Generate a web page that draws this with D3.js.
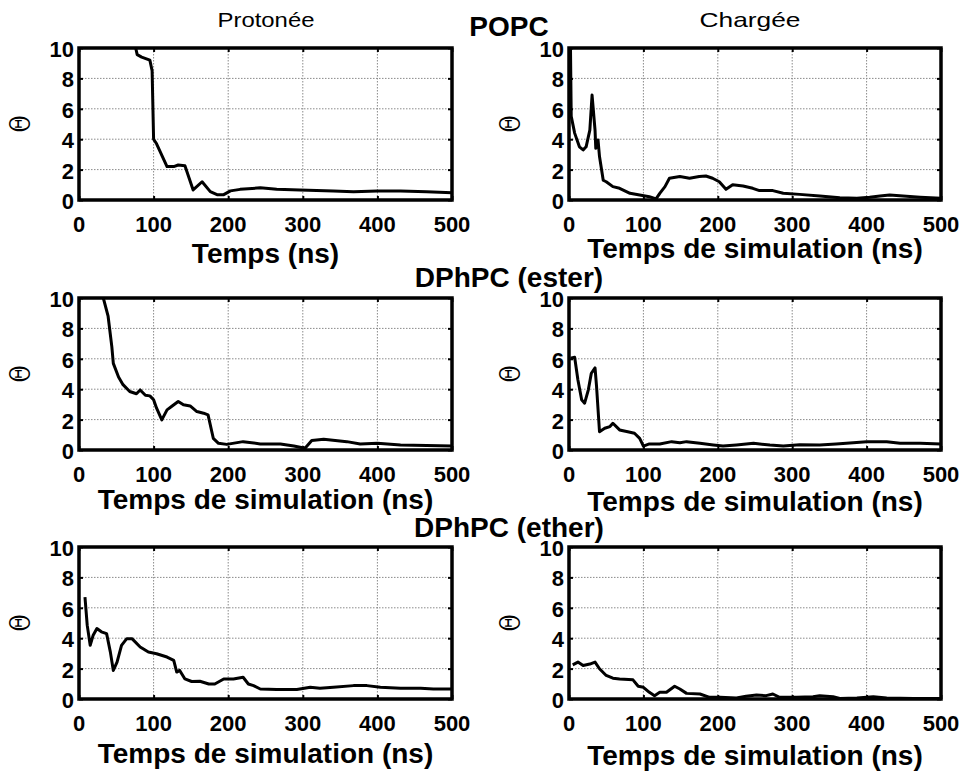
<!DOCTYPE html>
<html>
<head>
<meta charset="utf-8">
<script src="https://cdn.jsdelivr.net/npm/d3@7"></script>
<style>
  html, body { margin: 0; padding: 0; background: #fff; }
  svg { display: block; }
</style>
</head>
<body>
<svg id="chart" width="966" height="776"></svg>
<script>
// ---------- DATA ----------
const xTicks = [0, 100, 200, 300, 400, 500];
const yTicks = [0, 2, 4, 6, 8, 10];
const columnTitles = ["Protonée", "Chargée"];
const rowTitles = ["POPC", "DPhPC (ester)", "DPhPC (ether)"];
const yLabel = "Θ";

// time (ns)
const popcProtT = [76, 78, 84, 95, 98, 100, 104, 118, 127, 133, 142, 153, 165, 176, 185, 194, 203, 216, 243, 265, 296, 341, 368, 400, 431, 466, 500];
const popcProtV = [10, 9.56, 9.4, 9.2, 8.5, 4.0, 3.7, 2.2, 2.2, 2.3, 2.25, 0.66, 1.2, 0.55, 0.35, 0.35, 0.6, 0.7, 0.8, 0.7, 0.66, 0.6, 0.55, 0.6, 0.6, 0.55, 0.48];

const popcChgT = [0, 1, 2, 3, 7.6, 14, 19, 23, 28, 31, 35, 36, 39, 41, 46, 50, 59, 68, 82, 95, 108, 117, 122, 129, 135, 149, 162, 175, 184, 193, 202, 211, 220, 234, 247, 256, 274, 288, 310, 337, 364, 387, 404, 418, 431, 449, 472, 500];
const popcChgV = [7.0, 6.8, 10, 5.5, 4.4, 3.5, 3.3, 3.5, 4.6, 6.9, 4.6, 3.4, 3.95, 2.86, 1.3, 1.2, 0.88, 0.77, 0.44, 0.33, 0.22, 0.07, 0.44, 0.88, 1.43, 1.54, 1.43, 1.54, 1.58, 1.43, 1.2, 0.7, 1.0, 0.92, 0.77, 0.62, 0.62, 0.44, 0.37, 0.26, 0.15, 0.11, 0.18, 0.26, 0.33, 0.26, 0.18, 0.11];

const esterProtT = [32.6, 39, 44, 46, 53, 59, 68, 77, 82, 89, 95, 100, 104, 111, 118, 124, 133, 140, 149, 158, 167, 173, 180, 187, 198, 220, 243, 270, 288, 303, 312, 328, 359, 377, 400, 431, 466, 500];
const esterProtV = [10, 8.8, 6.8, 5.7, 4.8, 4.3, 3.85, 3.7, 3.95, 3.6, 3.56, 3.3, 2.75, 1.98, 2.64, 2.86, 3.19, 2.97, 2.9, 2.53, 2.42, 2.31, 0.77, 0.44, 0.37, 0.55, 0.4, 0.4, 0.26, 0.11, 0.62, 0.7, 0.55, 0.4, 0.44, 0.33, 0.29, 0.26];

const esterChgT = [2, 7.6, 12, 17, 21, 26, 30, 35, 37, 41, 48, 55, 59, 68, 79, 88, 95, 100, 108, 122, 138, 149, 158, 176, 194, 207, 225, 248, 270, 288, 310, 337, 359, 382, 400, 427, 445, 472, 500];
const esterChgV = [6.04, 6.1, 4.6, 3.3, 3.08, 3.96, 5.05, 5.4, 4.2, 1.2, 1.43, 1.54, 1.76, 1.32, 1.2, 1.1, 0.77, 0.26, 0.4, 0.4, 0.55, 0.48, 0.55, 0.44, 0.33, 0.26, 0.33, 0.44, 0.33, 0.26, 0.35, 0.33, 0.4, 0.48, 0.55, 0.55, 0.44, 0.44, 0.4];

const etherProtT = [8, 11, 15, 19, 24, 30, 37, 42, 46, 51, 57, 64, 71, 82, 93, 104, 118, 127, 131, 135, 142, 151, 162, 174, 182, 194, 207, 220, 227, 234, 243, 265, 292, 310, 323, 341, 368, 386, 404, 431, 458, 475, 500];
const etherProtV = [6.7, 4.86, 3.53, 4.2, 4.64, 4.42, 4.3, 3.1, 1.88, 2.43, 3.53, 3.97, 3.97, 3.42, 3.09, 2.98, 2.76, 2.54, 1.77, 1.88, 1.32, 1.15, 1.17, 0.99, 0.99, 1.32, 1.32, 1.43, 0.99, 0.88, 0.66, 0.62, 0.62, 0.77, 0.71, 0.77, 0.88, 0.88, 0.77, 0.71, 0.71, 0.66, 0.66];

const etherChgT = [5, 12, 19, 28, 35, 41, 50, 59, 68, 86, 93, 100, 108, 115, 122, 131, 142, 149, 158, 176, 189, 203, 225, 238, 252, 265, 274, 283, 306, 328, 337, 355, 364, 387, 409, 427, 463, 500];
const etherChgV = [2.25, 2.43, 2.2, 2.3, 2.43, 1.99, 1.55, 1.37, 1.32, 1.26, 0.84, 0.77, 0.44, 0.22, 0.44, 0.44, 0.84, 0.66, 0.37, 0.33, 0.11, 0.11, 0.07, 0.18, 0.26, 0.22, 0.33, 0.11, 0.11, 0.15, 0.22, 0.15, 0.04, 0.07, 0.15, 0.07, 0.04, 0.04];

// ---------- LAYOUT ----------
const colX = [[79, 452], [569, 941]];
const rowY = [[48, 200], [298, 450], [547, 699]];
const xTitles = [["Temps (ns)", "Temps de simulation (ns)"],
                 ["Temps de simulation (ns)", "Temps de simulation (ns)"],
                 ["Temps de simulation (ns)", "Temps de simulation (ns)"]];
const xTitleBase = [[263, 258], [509, 511], [763, 765]];
const rowTitleBase = [36, 287, 537];
const series = [
  [[popcProtT, popcProtV], [popcChgT, popcChgV]],
  [[esterProtT, esterProtV], [esterChgT, esterChgV]],
  [[etherProtT, etherProtV], [etherChgT, etherChgV]]
];

const svg = d3.select("#chart");
const FONT = "'Liberation Sans', Arial, Helvetica, sans-serif";

// column titles
columnTitles.forEach((t, c) => {
  const cx = c === 0 ? 266 : 750;
  svg.append("text").attr("x", cx).attr("y", 27)
    .attr("text-anchor", "middle")
    .attr("font-family", FONT).attr("font-size", 21)
    .attr("textLength", c === 0 ? 97 : 101).attr("lengthAdjust", "spacingAndGlyphs")
    .attr("fill", "#000").text(t);
});

let clipId = 0;
rowY.forEach((ry, r) => {
  colX.forEach((cx, c) => {
    const x = d3.scaleLinear().domain([0, 500]).range(cx);
    const y = d3.scaleLinear().domain([0, 10]).range([ry[1], ry[0]]);
    const g = svg.append("g");

    // grid
    g.selectAll(".vg").data(xTicks.slice(1, -1)).enter().append("line")
      .attr("x1", d => x(d)).attr("x2", d => x(d))
      .attr("y1", ry[0]).attr("y2", ry[1])
      .attr("stroke", "#8a8a8a").attr("stroke-width", 1).attr("stroke-dasharray", "1.5,1.5");
    g.selectAll(".hg").data(yTicks.slice(1, -1)).enter().append("line")
      .attr("x1", cx[0]).attr("x2", cx[1])
      .attr("y1", d => y(d)).attr("y2", d => y(d))
      .attr("stroke", "#8a8a8a").attr("stroke-width", 1).attr("stroke-dasharray", "1.5,1.5");

    // inner ticks (matlab style) via d3 axes
    const tl = 4;
    g.append("g").attr("transform", `translate(0,${ry[1]})`)
      .call(d3.axisTop(x).tickValues(xTicks).tickSize(tl).tickFormat(""))
      .call(a => a.select(".domain").remove())
      .selectAll("line").attr("stroke", "#000").attr("stroke-width", 2);
    g.append("g").attr("transform", `translate(0,${ry[0]})`)
      .call(d3.axisBottom(x).tickValues(xTicks).tickSize(tl).tickFormat(""))
      .call(a => a.select(".domain").remove())
      .selectAll("line").attr("stroke", "#000").attr("stroke-width", 2);
    g.append("g").attr("transform", `translate(${cx[0]},0)`)
      .call(d3.axisRight(y).tickValues(yTicks).tickSize(tl).tickFormat(""))
      .call(a => a.select(".domain").remove())
      .selectAll("line").attr("stroke", "#000").attr("stroke-width", 2);
    g.append("g").attr("transform", `translate(${cx[1]},0)`)
      .call(d3.axisLeft(y).tickValues(yTicks).tickSize(tl).tickFormat(""))
      .call(a => a.select(".domain").remove())
      .selectAll("line").attr("stroke", "#000").attr("stroke-width", 2);

    // tick labels
    g.selectAll(".xl").data(xTicks).enter().append("text")
      .attr("x", d => x(d)).attr("y", ry[1] + 32)
      .attr("text-anchor", "middle")
      .attr("font-family", FONT).attr("font-weight", "bold").attr("font-size", 22)
      .text(d => d);
    g.selectAll(".yl").data(yTicks).enter().append("text")
      .attr("x", cx[0] - 5).attr("y", d => y(d) + 9)
      .attr("text-anchor", "end")
      .attr("font-family", FONT).attr("font-weight", "bold").attr("font-size", 22)
      .text(d => d);

    // data line
    const id = "clip" + (clipId++);
    svg.append("clipPath").attr("id", id).append("rect")
      .attr("x", cx[0]).attr("y", ry[0]).attr("width", cx[1] - cx[0]).attr("height", ry[1] - ry[0]);
    const [ts, vs] = series[r][c];
    const pts = ts.map((t, i) => [t, vs[i]]);
    g.append("path").datum(pts)
      .attr("clip-path", `url(#${id})`)
      .attr("fill", "none").attr("stroke", "#000").attr("stroke-width", 3)
      .attr("stroke-linejoin", "round")
      .attr("d", d3.line().x(d => x(d[0])).y(d => y(d[1])));

    // frame
    g.append("rect").attr("x", cx[0]).attr("y", ry[0])
      .attr("width", cx[1] - cx[0]).attr("height", ry[1] - ry[0])
      .attr("fill", "none").attr("stroke", "#000").attr("stroke-width", 3.5);

    // y label (rotated theta)
    const lx = cx[0] - 59, ly = (ry[0] + ry[1]) / 2;
    g.append("text")
      .attr("transform", `translate(${lx},${ly}) rotate(-90) scale(1,1.35)`)
      .attr("text-anchor", "middle").attr("dy", "0.36em")
      .attr("font-family", "'DejaVu Serif', 'Liberation Serif', serif")
      .attr("font-size", 21).text(yLabel);

    // x axis title
    g.append("text")
      .attr("x", (cx[0] + cx[1]) / 2).attr("y", xTitleBase[r][c])
      .attr("text-anchor", "middle")
      .attr("font-family", FONT).attr("font-weight", "bold").attr("font-size", 28)
      .text(xTitles[r][c]);
  });
});

// row titles
rowTitles.forEach((t, r) => {
  svg.append("text").attr("x", 509).attr("y", rowTitleBase[r])
    .attr("text-anchor", "middle")
    .attr("font-family", FONT).attr("font-weight", "bold").attr("font-size", 28)
    .text(t);
});
</script>
</body>
</html>
